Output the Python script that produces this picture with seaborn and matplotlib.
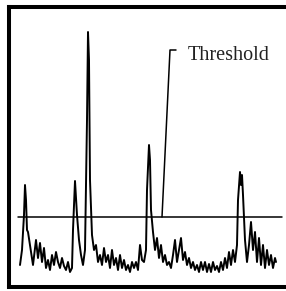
import numpy as np
import matplotlib
matplotlib.use("Agg")
import matplotlib.pyplot as plt
import seaborn as sns
import pandas as pd

# signal trace (sample position, amplitude above baseline frame)
sample = [20, 22, 24, 25, 26, 27, 28, 30, 33, 36, 38, 40, 42, 44, 46, 48, 50, 52, 54, 56,
          58, 60, 62, 64, 66, 68, 70, 72, 73, 75, 77, 79, 81, 83, 85, 87, 88, 89, 90, 92,
          94, 96, 98, 100, 102, 104, 106, 108, 110, 112, 114, 116, 118, 120, 122, 124, 126, 128, 130, 132,
          134, 136, 138, 140, 142, 144, 146, 147, 149, 150, 151, 153, 155, 157, 159, 161, 163, 165, 167, 169,
          171, 173, 175, 177, 179, 181, 183, 185, 187, 189, 191, 193, 195, 197, 199, 201, 203, 205, 207, 209,
          211, 213, 215, 217, 219, 221, 223, 225, 227, 229, 231, 233, 235, 237, 238, 240, 241, 242, 243, 245,
          247, 249, 251, 253, 255, 257, 259, 261, 263, 265, 267, 269, 271, 273, 275, 276]
pix_y = [265, 250, 215, 185, 200, 230, 232, 245, 265, 240, 258, 243, 262, 248, 268, 260, 270, 255, 265, 252,
         262, 268, 258, 266, 270, 262, 272, 268, 230, 181, 215, 240, 255, 265, 250, 120, 32, 60, 180, 235,
         250, 245, 262, 255, 265, 248, 262, 255, 268, 250, 265, 258, 270, 255, 268, 260, 270, 265, 272, 262,
         268, 262, 270, 245, 260, 262, 250, 190, 145, 160, 210, 232, 250, 238, 258, 245, 262, 255, 265, 262,
         268, 255, 240, 262, 250, 238, 260, 252, 265, 258, 268, 262, 270, 265, 272, 262, 270, 262, 272, 264,
         272, 262, 270, 266, 272, 262, 270, 258, 268, 252, 265, 250, 262, 245, 200, 172, 185, 175, 195, 240,
         262, 245, 222, 250, 232, 262, 238, 265, 245, 268, 250, 265, 255, 268, 258, 262]
amplitude = [287 - v for v in pix_y]

threshold = 70
threshold_span = [18, 282]
label = "Threshold"
callout_x = [162, 170, 176]
callout_y = [70, 237, 237]

df = pd.DataFrame({"sample": sample, "amplitude": amplitude})

sns.set_style("white")
fig = plt.figure(figsize=(2.86, 2.91), dpi=100)
ax = fig.add_axes([9 / 286, 4 / 291, (300 - 9) / 286, 280 / 291])

sns.lineplot(data=df, x="sample", y="amplitude", ax=ax, color="black", linewidth=1.4)
ax.plot(threshold_span, [threshold, threshold], color="black", linewidth=1.1)
ax.plot(callout_x, callout_y, color="black", linewidth=1.1)
ax.text(188, 231, label, ha="left", va="center", fontsize=14.5,
        family=["Liberation Serif", "DejaVu Serif"], color="#222222")

ax.set_xlim(9, 300)
ax.set_ylim(0, 280)
ax.set_xticks([])
ax.set_yticks([])
ax.set_xlabel("")
ax.set_ylabel("")
for s in ax.spines.values():
    s.set_color("black")
    s.set_linewidth(2.9)
ax.spines["right"].set_visible(False)

fig.savefig("out.png", dpi=100)
